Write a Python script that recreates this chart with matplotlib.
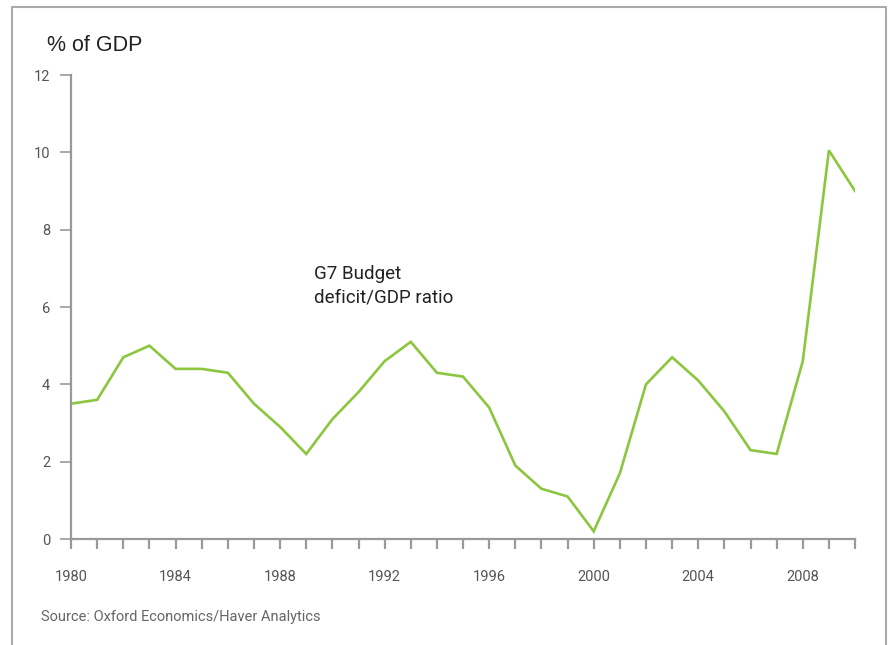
import matplotlib.pyplot as plt
from matplotlib.lines import Line2D

# G7 budget deficit, % of GDP
years = list(range(1980, 2011))
deficit = [3.5, 3.6, 4.7, 5.0, 4.4, 4.4, 4.3, 3.5, 2.9, 2.2,
           3.1, 3.8, 4.6, 5.1, 4.3, 4.2, 3.4, 1.9, 1.3, 1.1,
           0.2, 1.7, 4.0, 4.7, 4.1, 3.3, 2.3, 2.2, 4.6, 10.05,
           9.0]
y_ticks = [0, 2, 4, 6, 8, 10, 12]
x_ticks = [1980, 1984, 1988, 1992, 1996, 2000, 2004, 2008]

plt.rcParams['font.family'] = ['Liberation Sans Narrow', 'Roboto', 'DejaVu Sans']

fig = plt.figure(figsize=(8.88, 6.45), dpi=100)
ax = fig.add_axes([0.080, 0.1643, 0.8829, 0.7194])

ax.plot(years, deficit, color='#8cc63e', linewidth=1.9, solid_joinstyle='miter')

ax.set_xlim(1980, 2010)
ax.set_ylim(0, 12)
ax.set_xticks(years)
ax.set_xticklabels([str(y) if y in x_ticks else '' for y in years])
ax.set_yticks(y_ticks)

for s in ['top', 'right']:
    ax.spines[s].set_visible(False)
for s in ['left', 'bottom']:
    ax.spines[s].set_color('#999999')
    ax.spines[s].set_linewidth(1.6)
ax.tick_params(axis='x', length=7, width=1.6, color='#999999', labelsize=10.5,
               labelcolor='#555555', pad=15)
ax.tick_params(axis='y', length=8, width=1.2, color='#999999', labelsize=10.5,
               labelcolor='#555555', pad=7)

ax.text(1989.3, 6.55, 'G7 Budget\ndeficit/GDP ratio', fontsize=13.5, color='#222222',
        va='center', ha='left', linespacing=1.4)

fig.text(0.053, 0.93, '% of GDP', fontsize=15.5, color='#222222',
         family=['Liberation Sans', 'DejaVu Sans'], va='center', ha='left')
fig.text(0.046, 0.044, 'Source: Oxford Economics/Haver Analytics', fontsize=10.5,
         color='#666666', va='center', ha='left')

# frame around the chart
fx = [12 / 888, 12 / 888, 886 / 888, 886 / 888]
fy = [0.0, 1 - 7 / 645, 1 - 7 / 645, 0.0]
fig.add_artist(Line2D(fx, fy, color='#aaaaaa', linewidth=1.5, transform=fig.transFigure))

fig.savefig('out.png', dpi=100)
